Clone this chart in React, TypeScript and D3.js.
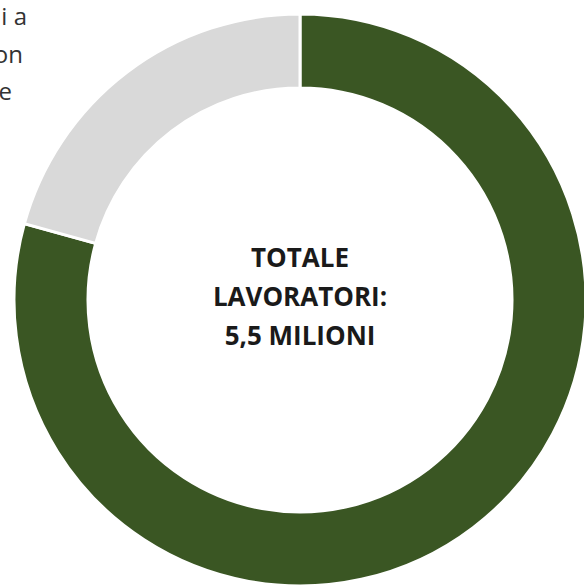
import * as d3 from "d3";
import * as React from "react";

const labels = ["Lavoratori A", "Altri"];
const values = [79.3, 20.7];
const colors = ["#3a5623", "#d9d9d9"];
const centerLines = ["TOTALE", "LAVORATORI:", "5,5 MILIONI"];
const sideLines = ["i a", "on", "e"];

export default function App() {
  const width = 584;
  const height = 586;
  const cx = 300;
  const cy = 300;
  const outerRadius = 286;
  const innerRadius = 212;

  const data = labels.map((label, i) => ({ label, value: values[i], color: colors[i] }));

  const pie = d3
    .pie<{ label: string; value: number; color: string }>()
    .sort(null)
    .value((d) => d.value);

  const arc = d3
    .arc<d3.PieArcDatum<{ label: string; value: number; color: string }>>()
    .innerRadius(innerRadius)
    .outerRadius(outerRadius);

  const arcs = pie(data);

  const sideX = [27, 23, 12];

  return (
    <svg
      width={width}
      height={height}
      viewBox={`0 0 ${width} ${height}`}
      style={{ position: "absolute", left: 0, top: 0, background: "#fff" }}
    >
      <g transform={`translate(${cx},${cy})`}>
        {arcs.map((a) => (
          <path key={a.data.label} d={arc(a) ?? ""} fill={a.data.color} stroke="#fff" strokeWidth={3} />
        ))}
        {centerLines.map((t, i) => (
          <text
            key={t}
            x={0}
            y={(i - 1) * 39 - 3}
            dy="0.35em"
            textAnchor="middle"
            fontFamily="Open Sans, sans-serif"
            fontWeight={700}
            fontSize={26}
            fill="#1a1a1a"
          >
            {t}
          </text>
        ))}
      </g>
      {sideLines.map((t, i) => (
        <text
          key={t}
          x={sideX[i]}
          y={25 + i * 37.5}
          textAnchor="end"
          fontFamily="Open Sans, sans-serif"
          fontSize={24}
          fill="#333333"
        >
          {t}
        </text>
      ))}
    </svg>
  );
}
